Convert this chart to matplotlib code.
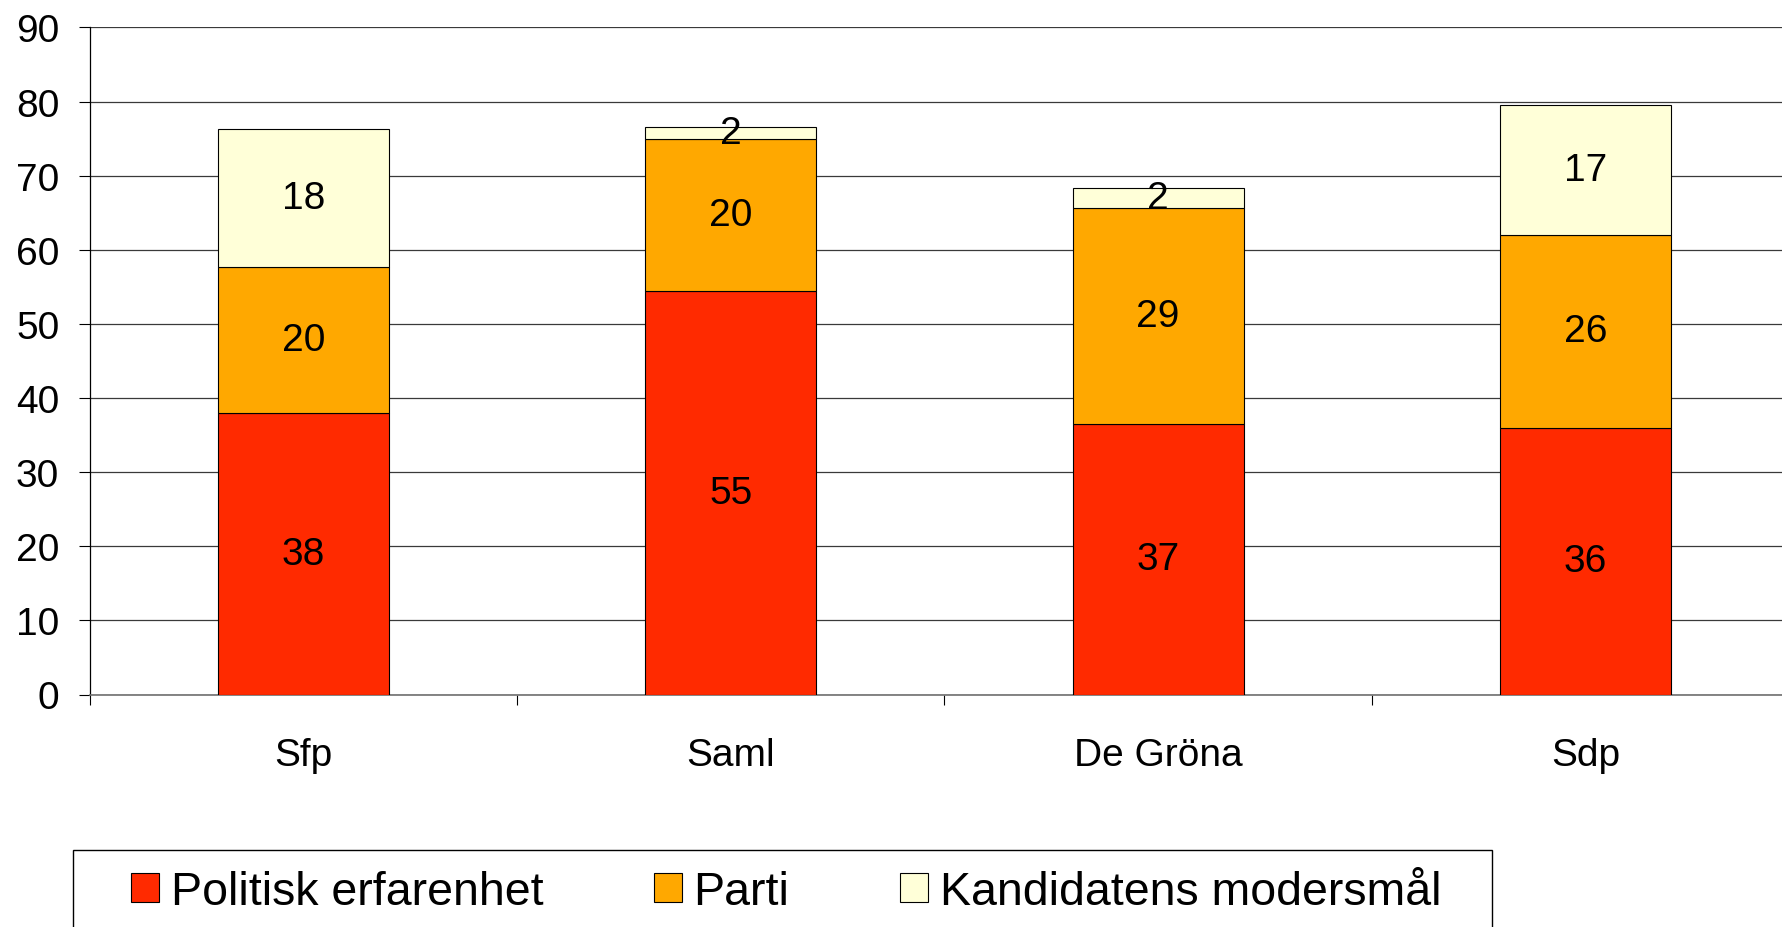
# stacked bar chart: reasons for choosing a candidate, per party
import numpy as np
import matplotlib
matplotlib.use('Agg')
import matplotlib.pyplot as plt
from matplotlib.patches import Rectangle

plt.rcParams['font.family'] = ['Liberation Sans', 'DejaVu Sans']

# data
parties = ['Sfp', 'Saml', 'De Gröna', 'Sdp']
politisk = [38.0, 54.5, 36.5, 36.0]
parti = [19.7, 20.4, 29.2, 26.0]
modersmal = [18.6, 1.6, 2.6, 17.5]
# printed labels (as shown in the chart)
politisk_lbl = ['38', '55', '37', '36']
parti_lbl = ['20', '20', '29', '26']
modersmal_lbl = ['18', '2', '2', '17']
series_names = ['Politisk erfarenhet', 'Parti', 'Kandidatens modersmål']
colors = ['#FF2A00', '#FFA800', '#FFFFD8']

W, H = 1782, 928
fig = plt.figure(figsize=(W / 100, H / 100), dpi=100)
ax = fig.add_axes([89.8 / W, 1 - 695.5 / H, 1 - 89.8 / W, (695.5 - 28.4) / H])

x = np.arange(len(parties))
bottom = np.zeros(len(parties))
containers = []
for vals, lbls, col, name in zip([politisk, parti, modersmal],
                                 [politisk_lbl, parti_lbl, modersmal_lbl],
                                 colors, series_names):
    bc = ax.bar(x, vals, width=0.4, bottom=bottom, color=col,
                edgecolor='black', linewidth=0.8, label=name, zorder=3)
    ax.bar_label(bc, labels=lbls, label_type='center', fontsize=28, zorder=4)
    containers.append(bc)
    bottom += np.array(vals)

ax.set_xlim(-0.5, 3.46)
ax.set_ylim(0, 90)
ax.set_yticks(np.arange(0, 91, 10))
ax.yaxis.grid(True, color='#3a3a3a', linewidth=0.9, zorder=0)
ax.set_axisbelow(True)

# category labels at centres, tick marks at category boundaries
ax.set_xticks(x)
ax.set_xticklabels(parties, fontsize=28)
ax.set_xticks(np.arange(-0.5, 3.0, 1.0), minor=True)
ax.tick_params(axis='x', which='major', length=0, pad=30.5)
ax.tick_params(axis='x', which='minor', length=7, width=0.8, direction='out')
ax.tick_params(axis='y', labelsize=28, length=8, width=0.8, pad=14)

for s in ['top', 'right']:
    ax.spines[s].set_visible(False)
ax.spines['left'].set_color('black')
ax.spines['left'].set_linewidth(0.9)
ax.spines['bottom'].set_color('#707070')
ax.spines['bottom'].set_linewidth(1.2)

# legend box (runs off the bottom of the image)
fig.patches.append(Rectangle((72.7 / W, -0.05), (1492 - 72.7) / W, 0.05 + 1 - 851 / H,
                             transform=fig.transFigure, fill=False,
                             edgecolor='black', linewidth=1.0))
fig.legend(handles=containers, labels=series_names, ncol=3, frameon=False,
           loc='center left', bbox_to_anchor=(131 / W, 1 - 893 / H),
           fontsize=33.5, handlelength=0.6, handleheight=0.6,
           handletextpad=0.25, columnspacing=2.38, borderpad=0, borderaxespad=0)

plt.savefig('out.png', dpi=100)
print("saved out.png")
